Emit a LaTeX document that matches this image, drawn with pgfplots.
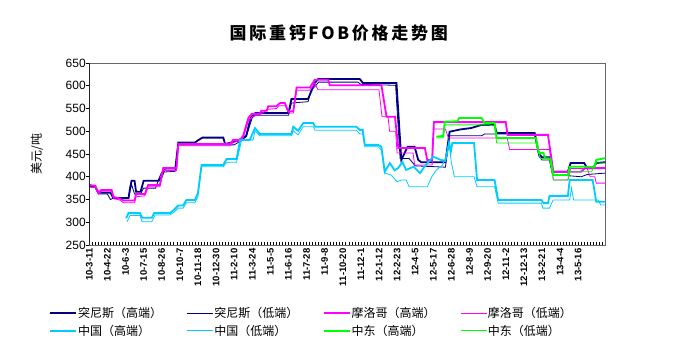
\documentclass[border=0pt]{standalone}
\usepackage{fontspec}
\setmainfont{Liberation Sans}
\newfontfamily\cjk{Noto Sans CJK SC}
\usepackage{pgfplots}
\pgfplotsset{compat=1.18}
\definecolor{navy}{RGB}{0,0,128}
\definecolor{mag}{RGB}{255,0,255}
\definecolor{sky}{RGB}{0,204,255}
\definecolor{grn}{RGB}{0,255,0}
\newcommand{\legtxt}[1]{\makebox[107.5pt][l]{\cjk\fontsize{12}{13}\selectfont #1}}
\begin{document}
\begin{tikzpicture}
\useasboundingbox (0pt,0pt) rectangle (696pt,363pt);
\node at (338.7pt,330pt) {\cjk\bfseries\fontsize{17}{17}\selectfont\addfontfeature{LetterSpace=16}国际重钙FOB价格走势图};
\node[rotate=90] at (37pt,209pt) {\cjk\fontsize{12}{12}\selectfont 美元/吨};
\begin{axis}[
  at={(89.3pt,118pt)}, anchor=south west,
  width=516pt, height=182pt, scale only axis,
  xmin=0, xmax=171, ymin=250, ymax=650,
  axis line style={draw=gray!80!black, line width=0.8pt},
  xtick pos=bottom, ytick pos=left,
  ytick={250,300,...,650},
  xtick={0,6,...,162},
  minor xtick={0,1,...,171},
  xticklabels={10-3-11,10-4-22,10-6-3,10-7-15,10-8-26,10-10-7,10-11-18,10-12-30,11-2-10,11-3-24,11-5-5,11-6-16,11-7-28,11-9-8,11-10-20,11-12-1,12-1-12,12-2-23,12-4-5,12-5-17,12-6-28,12-8-9,12-9-20,12-11-2,12-12-13,13-2-21,13-4-4,13-5-16},
  x tick label style={rotate=90, anchor=east, font=\bfseries\fontsize{9.5}{9.5}\selectfont},
  y tick label style={font=\fontsize{12}{12}\selectfont},
  /pgf/number format/assume math mode=true,
  tick align=inside, major tick length=3pt, minor tick length=3pt,
  tick style={black, line width=0.6pt},
  y tick style={xshift=-3pt},
  legend columns=4,
  legend cell align=left,
  legend style={at={(-0.078,-0.335)}, anchor=north west, draw=none, fill=none,
    inner sep=0pt, column sep=0pt, row sep=4pt, nodes={inner xsep=1pt, inner ysep=1pt}},
  legend image code/.code={\draw[#1] (0pt,0pt) -- (26pt,0pt);},
]
% Tunisia high
\addplot[navy, line width=1.8pt] coordinates {
(0,380)(2,378)(3,365)(7,365)(8,353)(13,353)(13.5,375)(14,391)(15,391)(15.5,367)(17,367)(18,391)(23,391)(24,400)(25,418)(28.5,418)(29.5,475)(35,475)(36,480)(37.5,486)(44.4,486)(45,472)(47,475)(50,482)(52,490)(53.5,530)(55,540)(66,540)(67,571)(72.5,571)(74.7,606)(75.9,615)(89.6,615)(90.7,606)(101.8,606)(103.4,437)(105.5,466)(107.8,466)(109,437)(110,432)(118,432)(119.4,499)(123,504)(126.5,507)(130,514)(134.3,514)(135,496)(147.6,496)(149,450)(150,443)(152.5,443)(153.5,411)(158.6,411)(159.5,430)(164,430)(165,419)(167,419)(168,430)(171,432)};
\addlegendentry{\legtxt{突尼斯（高端）}}
% Tunisia low
\addplot[navy, line width=0.8pt] coordinates {
(0,378)(2,376)(3,362)(6,362)(7,350)(8,353)(13,353)(14,383)(15,362)(17,362)(18,375)(22,375)(23,395)(24,410)(28.5,412)(29.5,470)(46,470)(48,470)(50,478)(52,488)(54,530)(55,535)(66,535)(67,562)(72.5,565)(73.5,590)(75,600)(76,608)(89,608)(90,603)(101.5,601)(103,440)(106,440)(108,424)(118,421)(119.5,490)(130,490)(131,494)(147.6,494)(149,445)(150,437)(152.5,437)(153.5,405)(163,400)(165,405)(171,408)};
\addlegendentry{\legtxt{突尼斯（低端）}}
% Morocco high
\addplot[mag, line width=1.8pt] coordinates {
(0,382)(2,380)(3,365)(4,371)(7.4,371)(8,356)(10,352)(11.3,348)(15,348)(15.5,362)(18.4,362)(19.5,382)(23.4,382)(24.5,419)(28.9,419)(29.5,472)(46.6,472)(47.7,481)(49.9,481)(51,490)(52.7,529)(53.8,538)(56.5,538)(57,545)(58.8,545)(59.3,555)(62,555)(63.2,562)(64.8,562)(65.9,544)(67.6,544)(68.7,596)(73.1,596)(74.7,613)(79.2,613)(79.7,601)(96.8,601)(98.5,532)(101.3,532)(102.4,463)(111.2,463)(112,437)(113.6,437)(114.2,520)(138,520)(138.6,492)(152,492)(153.8,411)(163,411)(164.3,419)(171,419)};
\addlegendentry{\legtxt{摩洛哥（高端）}}
% Morocco low
\addplot[mag, line width=0.8pt] coordinates {
(0,378)(2,376)(3,362)(4,368)(7.4,368)(8,352)(10,349)(11.3,343)(15,343)(15.5,356)(18.4,358)(19.5,378)(23.4,378)(24.5,414)(28.9,414)(29.5,468)(46.6,468)(47.7,476)(50,478)(51,486)(52.7,522)(54,532)(57,538)(59,548)(62,550)(63,556)(65,556)(66,540)(67.6,540)(68.7,590)(73,590)(74.7,605)(75.8,591)(96,591)(97,532)(99,532)(99.5,500)(101.5,500)(102,452)(107.3,452)(107.8,426)(113.6,426)(114.2,505)(118,505)(119,485)(138.5,485)(139.3,460)(152.5,460)(153.8,393)(158.6,393)(159.5,418)(165,418)(166,400)(167.5,400)(168,386)(171,386)};
\addlegendentry{\legtxt{摩洛哥（低端）}}
% China high
\addplot[sky, line width=1.8pt] coordinates {
(12.2,309)(13,320)(16.8,320)(17.5,310)(20.7,310)(21.5,320)(26.7,320)(28,327)(29.5,337)(31.1,337)(32.2,349)(35,349)(36,364)(37.2,426)(44.4,426)(45.5,439)(48.8,439)(50,481)(53.2,481)(54.9,507)(56.5,494)(67,494)(67.6,510)(69.2,501)(70.9,518)(74.2,518)(74.8,510)(88.5,510)(89.6,503)(90.6,503)(91.3,470)(95.7,470)(96.8,466)(97.9,411)(99.6,430)(101.2,414)(102.3,419)(103.8,432)(105,415)(107.5,422)(109.6,408)(111.5,426)(114,444)(116.5,437)(118,435)(119.2,475)(119.8,455)(120.3,474)(127.5,474)(128.5,393)(134.3,393)(135.5,349)(149.8,349)(150.5,342)(152,342)(152.5,358)(158.6,358)(159.2,393)(166.8,393)(168,345)(171,345)};
\addlegendentry{\legtxt{中国（高端）}}
% China low
\addplot[sky, line width=0.8pt] coordinates {
(12.5,301)(13.5,315)(16.8,315)(17.5,301)(20.7,301)(21.8,316)(26.7,316)(28,322)(29.5,331)(31.1,331)(32.2,343)(35,343)(36,356)(37.2,422)(44.4,422)(45.5,432)(48.8,432)(50.5,481)(54.3,481)(54.9,501)(56.5,490)(67,490)(67.6,501)(69.2,492)(70.9,510)(74.2,510)(74.8,502)(88.5,502)(89.6,494)(90.6,494)(91.3,466)(95.7,466)(96.8,459)(97.9,408)(100,404)(102,389)(103.5,393)(105,393)(106,378)(112,378)(113.5,400)(115,415)(117,425)(118,440)(119.3,470)(120,430)(121,400)(127.5,400)(128.5,378)(134.3,378)(135.5,342)(149.8,342)(150.3,331)(152.5,331)(153.7,349)(159.2,349)(159.8,375)(160.5,349)(168.6,349)(169.5,338)(171,338)};
\addlegendentry{\legtxt{中国（低端）}}
% Middle East high
\addplot[grn, line width=1.8pt] coordinates {
(115,488)(117.3,490)(117.8,521)(122,522)(122.5,529)(130,529)(131,518)(134.3,518)(135,485)(148,485)(149,452)(150.5,452)(151,441)(152.8,440)(153.8,404)(158.6,404)(159.2,422)(167.5,422)(168,437)(171,441)};
\addlegendentry{\legtxt{中东（高端）}}
% Middle East low
\addplot[grn, line width=0.8pt] coordinates {
(115,485)(117.3,486)(117.8,514)(132.5,514)(133.5,512)(134.3,512)(135,474)(148,474)(149.5,440)(152.5,440)(153.8,393)(158.6,393)(159.2,411)(166.5,411)(167.5,430)(171,430)};
\addlegendentry{\legtxt{中东（低端）}}
\draw[black, line width=0.8pt] (rel axis cs:0,1) -- (rel axis cs:0,0) -- (rel axis cs:1,0);
\end{axis}
\end{tikzpicture}
\end{document}
